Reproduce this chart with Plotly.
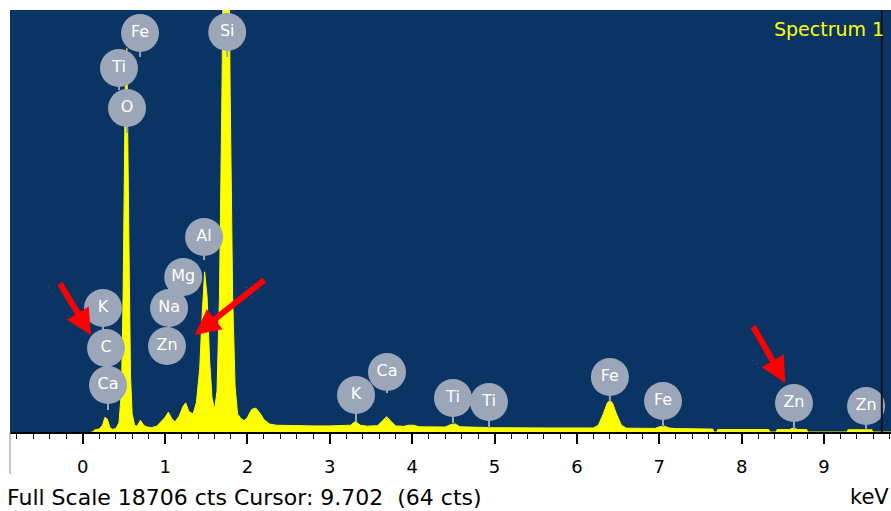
import plotly.graph_objects as go

# ---------------- data ----------------
spectrum_keV = [0.10, 0.13, 0.14, 0.20, 0.24, 0.27, 0.30, 0.33, 0.36, 0.40, 0.44, 0.47, 0.49, 0.505,
                0.52, 0.535, 0.55, 0.565, 0.58, 0.60, 0.63, 0.66, 0.70, 0.74, 0.78, 0.84, 0.90, 0.95,
                1.00, 1.04, 1.08, 1.12, 1.17, 1.22, 1.25, 1.29, 1.34, 1.38, 1.42, 1.45, 1.48, 1.51,
                1.54, 1.57, 1.60, 1.63, 1.66, 1.69, 1.72, 1.74, 1.76, 1.79, 1.82, 1.85, 1.88, 1.92,
                1.96, 2.00, 2.05, 2.10, 2.15, 2.20, 2.27, 2.35, 2.50, 2.80, 3.00, 3.20, 3.25, 3.31,
                3.37, 3.45, 3.58, 3.64, 3.69, 3.74, 3.80, 3.90, 3.95, 4.02, 4.08, 4.40, 4.47, 4.52,
                4.58, 4.90, 5.00, 5.60, 6.00, 6.20, 6.26, 6.32, 6.37, 6.40, 6.43, 6.48, 6.54, 6.60,
                6.95, 7.00, 7.06, 7.12, 7.20, 7.60, 7.65, 7.66, 7.70, 7.71, 8.33, 8.34, 8.42, 8.43,
                8.58, 8.63, 8.68, 8.79, 8.80, 9.28, 9.29, 9.58, 9.59, 9.90]
spectrum_cts = [0, 0, 90, 130, 300, 650, 560, 200, 120, 150, 400, 1800, 6000, 12000,
                16500, 17000, 13000, 7000, 2500, 800, 300, 250, 520, 300, 220, 200, 260, 450,
                650, 880, 600, 450, 700, 1150, 1290, 900, 800, 1300, 2800, 5200, 7100, 6000,
                3200, 1500, 1000, 1800, 6000, 15000, 28000, 33000, 28000, 15000, 6000, 2000, 800, 600,
                500, 650, 1000, 1060, 850, 550, 350, 300, 280, 270, 270, 270, 300, 470,
                300, 260, 280, 500, 680, 480, 270, 250, 300, 300, 230, 220, 330, 360,
                230, 200, 190, 180, 170, 180, 300, 800, 1300, 1390, 1300, 800, 300, 170,
                160, 230, 260, 180, 150, 130, 130, 0, 0, 110, 110, 0, 0, 110,
                110, 180, 110, 110, 0, 0, 100, 100, 0, 0]

full_scale_cts = 18706
cursor_keV = 9.702
x_ticks = [0, 1, 2, 3, 4, 5, 6, 7, 8, 9]

label_text = ["Fe", "Si", "Ti", "O", "Al", "Mg", "Na", "Zn", "K", "C", "Ca",
              "K", "Ca", "Ti", "Ti", "Fe", "Fe", "Zn", "Zn"]
label_keV = [0.696, 1.754, 0.44, 0.538, 1.473, 1.22, 1.048, 1.023, 0.246, 0.283, 0.307,
             3.318, 3.694, 4.495, 4.932, 6.40, 7.045, 8.635, 9.51]
label_cts = [17687, 17732, 16136, 14363, 8644, 6871, 5497, 3812, 5497, 3724, 2084,
             1640, 2660, 1507, 1330, 2438, 1374, 1286, 1153]
stem_bottom_cts = [16624, 16624, 15161, 13255, 7625, 6029, 4522, 3812, 4522, 2900, 975,
                   443, 1729, 399, 177, 1330, 222, 133, 89]

arrow_tip_keV = [0.10, 1.36, 8.53]
arrow_tip_cts = [4300, 4300, 2170]
arrow_tail_dx = [-32, 71, -33]
arrow_tail_dy = [-53, -56, -58]

status_text = "Full Scale 18706 cts Cursor: 9.702 \u00a0(64 cts)"
# --------------------------------------

BG = "#0a3464"
YEL = "#ffff00"
GREY = "#9ba6b8"
FONT = "DejaVu Sans"

fig = go.Figure()

fig.add_trace(go.Scatter(
    x=spectrum_keV, y=spectrum_cts, mode="lines",
    line=dict(color=YEL, width=1), fill="tozeroy", fillcolor=YEL,
    hoverinfo="skip", showlegend=False))

# stems
sx, sy = [], []
for k, c, b in zip(label_keV, label_cts, stem_bottom_cts):
    sx += [k, k, None]
    sy += [c, b, None]
fig.add_trace(go.Scatter(x=sx, y=sy, mode="lines", line=dict(color=GREY, width=2),
                         hoverinfo="skip", showlegend=False))

fig.add_trace(go.Scatter(
    x=label_keV, y=label_cts, mode="markers+text", text=label_text,
    textposition="middle center",
    textfont=dict(family=FONT, size=16, color="white"),
    marker=dict(size=38, color=GREY, line=dict(width=0)),
    hoverinfo="skip", showlegend=False))

annotations = []
for tx, ty, dx, dy in zip(arrow_tip_keV, arrow_tip_cts, arrow_tail_dx, arrow_tail_dy):
    annotations.append(dict(x=tx, y=ty, xref="x", yref="y", ax=dx, ay=dy, text="",
                            showarrow=True, arrowhead=2, arrowsize=0.85, arrowwidth=6,
                            arrowcolor="#ff0000", standoff=0))

annotations.append(dict(x=1.0, y=1.0, xref="paper", yref="paper", xanchor="right", yanchor="top",
                        xshift=-5, yshift=-6, text="Spectrum 1", showarrow=False,
                        font=dict(family=FONT, size=19, color=YEL)))
annotations.append(dict(x=0, y=0, xref="paper", yref="paper", xanchor="left", yanchor="middle",
                        xshift=-5, yshift=-65, text=status_text, showarrow=False,
                        font=dict(family=FONT, size=22, color="black")))
annotations.append(dict(x=1.0, y=0, xref="paper", yref="paper", xanchor="right", yanchor="middle",
                        xshift=0, yshift=-65, text="keV", showarrow=False,
                        font=dict(family=FONT, size=21, color="black")))

fig.update_layout(
    width=891, height=511,
    margin=dict(l=10, r=0, t=10, b=79, pad=0),
    paper_bgcolor="white", plot_bgcolor=BG,
    annotations=annotations,
    shapes=[
        dict(type="line", xref="x", yref="paper", x0=cursor_keV, x1=cursor_keV, y0=0, y1=1,
             line=dict(color="#111122", width=2), layer="above"),
        dict(type="line", xref="paper", yref="paper", x0=0, x1=0, y0=0, y1=-0.1,
             line=dict(color="#7f8fae", width=1)),
    ],
    xaxis=dict(range=[-0.883, 9.813], tickmode="array", tickvals=x_ticks,
               ticks="outside", ticklen=10, tickwidth=1.5, tickcolor="black",
               ticklabelstandoff=7,
               minor=dict(dtick=0.2, ticks="outside", ticklen=5, tickwidth=1.2, tickcolor="black"),
               showline=True, linecolor="black", linewidth=2,
               showgrid=False, zeroline=False,
               tickfont=dict(family=FONT, size=18, color="black"), fixedrange=True),
    yaxis=dict(range=[0, full_scale_cts], visible=False, fixedrange=True),
)

fig.write_html("out.html", config={"displayModeBar": False},
               post_script="document.body.style.margin='0';document.body.style.overflow='hidden';")
